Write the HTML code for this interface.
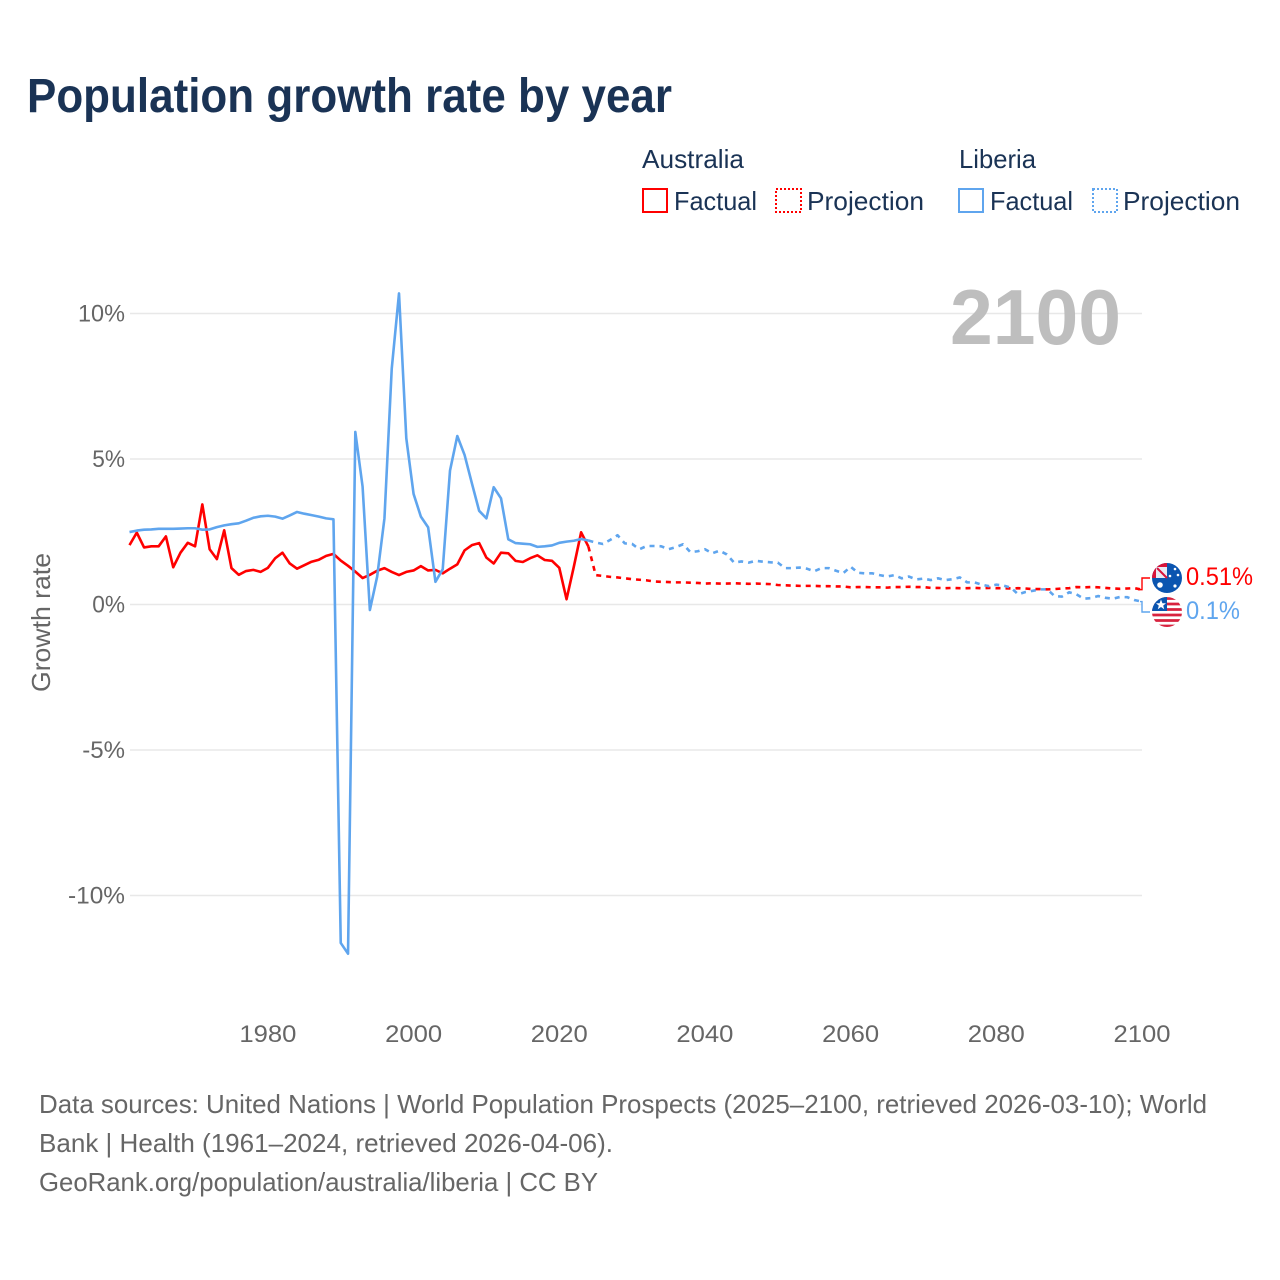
<!DOCTYPE html>
<html lang="en">
<head>
<meta charset="utf-8">
<title>Population growth rate by year</title>
<style>
html,body{margin:0;padding:0;background:#fff;}
svg{display:block;}
text{font-family:"Liberation Sans",sans-serif;}
</style>
</head>
<body>
<svg id="chart" xmlns="http://www.w3.org/2000/svg" width="1280" height="1280" viewBox="0 0 1280 1280">
<defs>
<clipPath id="clip-au"><circle cx="1167" cy="578" r="15"/></clipPath>
<clipPath id="clip-lr"><circle cx="1167" cy="612" r="15"/></clipPath>
</defs>
<rect width="1280" height="1280" fill="#fff"/>
<text x="27" y="112" font-size="48" font-weight="700" fill="#1a3355" textLength="645" lengthAdjust="spacingAndGlyphs">Population growth rate by year</text>

<g fill="#1a3355" font-size="26">
<text x="642" y="168" textLength="102" lengthAdjust="spacingAndGlyphs">Australia</text>
<rect x="643" y="189" width="24" height="23" fill="none" stroke="#ff0000" stroke-width="2"/>
<text x="674" y="210" textLength="83" lengthAdjust="spacingAndGlyphs">Factual</text>
<rect x="776" y="189" width="25" height="23" fill="none" stroke="#ff0000" stroke-width="2" stroke-dasharray="2 2"/>
<text x="807" y="210" textLength="117" lengthAdjust="spacingAndGlyphs">Projection</text>
<text x="959" y="168" textLength="77" lengthAdjust="spacingAndGlyphs">Liberia</text>
<rect x="959" y="189" width="24" height="23" fill="none" stroke="#5fa5ee" stroke-width="2"/>
<text x="990" y="210" textLength="83" lengthAdjust="spacingAndGlyphs">Factual</text>
<rect x="1093" y="189" width="24" height="23" fill="none" stroke="#5fa5ee" stroke-width="2" stroke-dasharray="2 2"/>
<text x="1123" y="210" textLength="117" lengthAdjust="spacingAndGlyphs">Projection</text>
</g>

<g id="grid"></g>
<g id="yticks"></g>
<g id="xticks"></g>
<text transform="translate(50,692) rotate(-90)" font-size="26" fill="#666666" textLength="139" lengthAdjust="spacingAndGlyphs">Growth rate</text>
<text x="950" y="344" font-size="78" font-weight="700" fill="#bebebe" textLength="171" lengthAdjust="spacingAndGlyphs">2100</text>
<g id="series"></g>

<g clip-path="url(#clip-au)">
<rect x="1152" y="563" width="30" height="30" fill="#0b55b0"/>
<rect x="1152" y="563" width="15" height="15" fill="#d8143a"/>
<rect x="1156" y="567" width="11" height="11" fill="#e8eaf4"/>
<path d="M1157 568L1167 578" stroke="#d8143a" stroke-width="2"/>
<circle cx="1160" cy="585" r="2.8" fill="#fff"/>
<circle cx="1175" cy="569" r="1.3" fill="#fff"/>
<circle cx="1170" cy="576" r="1.3" fill="#fff"/>
<circle cx="1178" cy="575" r="1.3" fill="#fff"/>
<circle cx="1175" cy="586" r="1.6" fill="#fff"/>
</g>
<g clip-path="url(#clip-lr)">
<rect x="1152" y="597" width="30" height="30" fill="#fff"/>
<path d="M1152 598.5H1182M1152 604H1182M1152 609.5H1182M1152 615H1182M1152 620.5H1182M1152 626H1182" stroke="#d8233f" stroke-width="2.8"/>
<rect x="1152" y="597" width="15" height="14" fill="#0b55b0"/>
<polygon points="1161,599.5 1162.4,603.2 1166,603.2 1163.2,605.6 1164.2,609.2 1161,607 1157.8,609.2 1158.8,605.6 1156,603.2 1159.6,603.2" fill="#fff"/>
</g>

<g font-size="26" fill="#666666">
<text x="39" y="1113" textLength="1168" lengthAdjust="spacingAndGlyphs">Data sources: United Nations | World Population Prospects (2025–2100, retrieved 2026-03-10); World</text>
<text x="39" y="1152" textLength="574" lengthAdjust="spacingAndGlyphs">Bank | Health (1961–2024, retrieved 2026-04-06).</text>
<text x="39" y="1191" textLength="559" lengthAdjust="spacingAndGlyphs">GeoRank.org/population/australia/liberia | CC BY</text>
</g>
</svg>
<script>
const xTickYears = [1980, 2000, 2020, 2040, 2060, 2080, 2100];
const yTickValues = [10, 5, 0, -5, -10];
const firstYear = 1961;
const lastYear = 2100;
const projectionStartYear = 2024;

const australiaFactual = [2.04,2.47,1.96,2.0,2.0,2.34,1.28,1.78,2.12,2.0,3.44,1.9,1.56,2.55,1.25,1.02,1.15,1.19,1.12,1.26,1.59,1.78,1.41,1.23,1.35,1.47,1.54,1.67,1.74,1.51,1.33,1.13,0.91,1.02,1.16,1.25,1.12,1.01,1.12,1.17,1.32,1.17,1.19,1.07,1.23,1.38,1.86,2.04,2.11,1.61,1.41,1.78,1.76,1.5,1.46,1.59,1.69,1.53,1.5,1.26,0.18,1.3,2.48,1.99];
const liberiaFactual = [2.49,2.54,2.57,2.58,2.6,2.6,2.6,2.61,2.62,2.62,2.57,2.58,2.66,2.72,2.76,2.79,2.88,2.98,3.03,3.05,3.02,2.95,3.06,3.18,3.12,3.07,3.02,2.96,2.93,-11.63,-12.0,5.93,4.05,-0.19,0.96,2.96,8.1,10.69,5.71,3.8,3.02,2.65,0.78,1.21,4.6,5.79,5.14,4.17,3.22,2.96,4.03,3.65,2.24,2.11,2.09,2.07,1.98,2.0,2.03,2.12,2.16,2.19,2.25,2.2];
const australiaProjection = [1.99,1.01,0.98,0.95,0.93,0.9,0.87,0.85,0.83,0.79,0.78,0.77,0.76,0.76,0.75,0.74,0.72,0.73,0.72,0.72,0.73,0.72,0.71,0.72,0.71,0.7,0.67,0.66,0.65,0.64,0.64,0.64,0.63,0.63,0.62,0.62,0.59,0.6,0.6,0.59,0.59,0.58,0.6,0.6,0.61,0.6,0.6,0.57,0.57,0.56,0.57,0.56,0.56,0.57,0.56,0.57,0.56,0.56,0.55,0.56,0.55,0.53,0.53,0.52,0.53,0.55,0.56,0.6,0.59,0.6,0.59,0.57,0.55,0.54,0.55,0.56,0.51];
const liberiaProjection = [2.2,2.13,2.08,2.22,2.38,2.1,2.08,1.9,2.01,2.01,2.0,1.9,1.97,2.07,1.8,1.83,1.9,1.76,1.85,1.72,1.44,1.48,1.44,1.5,1.47,1.45,1.44,1.25,1.25,1.27,1.23,1.14,1.25,1.25,1.16,1.08,1.3,1.09,1.07,1.07,1.01,0.96,1.01,0.9,0.96,0.86,0.89,0.84,0.9,0.84,0.87,0.93,0.76,0.76,0.68,0.63,0.68,0.65,0.58,0.35,0.43,0.47,0.52,0.52,0.29,0.27,0.42,0.35,0.2,0.22,0.29,0.23,0.2,0.26,0.25,0.15,0.1];

const NS = 'http://www.w3.org/2000/svg';
const xScale = year => 129.5 + (year - firstYear) * (1142 - 129.5) / (lastYear - firstYear);
const yScale = value => 604.5 - value * 29.1;

function make(tag, attrs, parent, content) {
  const el = document.createElementNS(NS, tag);
  for (const k in attrs) el.setAttribute(k, attrs[k]);
  if (content !== undefined) el.textContent = content;
  parent.appendChild(el);
  return el;
}
function pathFrom(values, startYear) {
  return values.map((v, i) => (i ? 'L' : 'M') + xScale(startYear + i).toFixed(2) + ' ' + yScale(v).toFixed(2)).join('');
}
function tickWidth(label) {
  let w = 0;
  for (const c of label) w += c === '%' ? 18.5 : c === '-' ? 10 : 14.25;
  return w;
}

const gridG = document.getElementById('grid');
const yG = document.getElementById('yticks');
const xG = document.getElementById('xticks');
const seriesG = document.getElementById('series');

yTickValues.forEach(v => {
  const line = make('line', {x1: 130, x2: 1142, y1: yScale(v), y2: yScale(v), stroke: '#e8e8e8', 'stroke-width': 1.5}, gridG);
  
  
  const label = v + '%';
  const width = tickWidth(label);
  const t = make('text', {x: 125 - width, y: yScale(v) + 8, 'font-size': 24, fill: '#666666', textLength: width, lengthAdjust: 'spacingAndGlyphs'}, yG, label);
  
  
});

xTickYears.forEach(y => {
  const t = make('text', {x: xScale(y) - 28.5, y: 1042, 'font-size': 24, fill: '#666666', textLength: 57, lengthAdjust: 'spacingAndGlyphs'}, xG, String(y));
  
  
});

const redProj = make('path', {d: pathFrom(australiaProjection, projectionStartYear), fill: 'none', stroke: '#ff0000', 'stroke-width': 2.6, 'stroke-dasharray': '5 5', 'stroke-linejoin': 'round'}, seriesG);


const blueProj = make('path', {d: pathFrom(liberiaProjection, projectionStartYear), fill: 'none', stroke: '#5fa5ee', 'stroke-width': 2.6, 'stroke-dasharray': '5 5', 'stroke-linejoin': 'round'}, seriesG);


const redLine = make('path', {d: pathFrom(australiaFactual, firstYear), fill: 'none', stroke: '#ff0000', 'stroke-width': 2.6, 'stroke-linejoin': 'round'}, seriesG);


const blueLine = make('path', {d: pathFrom(liberiaFactual, firstYear), fill: 'none', stroke: '#5fa5ee', 'stroke-width': 2.6, 'stroke-linejoin': 'round'}, seriesG);



const auLast = australiaProjection[australiaProjection.length - 1];
const lrLast = liberiaProjection[liberiaProjection.length - 1];
const endX = xScale(lastYear);
const auConn = make('path', {d: 'M' + (endX - 4) + ' ' + yScale(auLast) + 'H' + endX + 'V578H1150', fill: 'none', stroke: '#ff0000', 'stroke-width': 1.4}, seriesG);


const lrConn = make('path', {d: 'M' + (endX - 2) + ' ' + yScale(lrLast) + 'H' + endX + 'V612H1150', fill: 'none', stroke: '#5fa5ee', 'stroke-width': 1.4}, seriesG);



const auValue = make('text', {x: 1186, y: 585, 'font-size': 25, fill: '#ff0000', textLength: 67, lengthAdjust: 'spacingAndGlyphs'}, seriesG, auLast + '%');


const lrValue = make('text', {x: 1186, y: 619, 'font-size': 25, fill: '#5fa5ee', textLength: 54, lengthAdjust: 'spacingAndGlyphs'}, seriesG, lrLast + '%');


</script>
</body>
</html>
